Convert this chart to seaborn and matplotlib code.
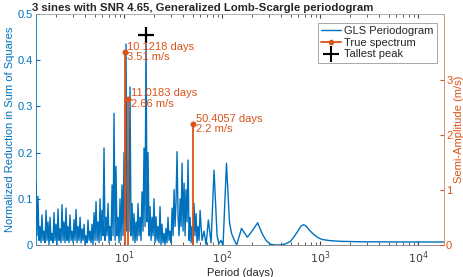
#!/usr/bin/env python3
# GLS periodogram of 3 sines, with the true spectrum on a second y axis
import numpy as np
import matplotlib
matplotlib.use("Agg")
import matplotlib.pyplot as plt
from matplotlib.lines import Line2D
import pandas as pd
import seaborn as sns

# ---- data ----
period_days = [
    1.265, 1.295, 1.324, 1.357, 1.39, 1.422, 1.455, 1.49, 1.527, 1.563,
    1.60, 1.638, 1.675, 1.716, 1.758, 1.80, 1.84, 1.885, 1.93, 1.975,
    2.02, 2.07, 2.12, 2.17, 2.22, 2.275, 2.33, 2.385, 2.44, 2.50,
    2.56, 2.62, 2.68, 2.745, 2.81, 2.88, 2.95, 3.02, 3.09, 3.165,
    3.24, 3.315, 3.39, 3.475, 3.56, 3.645, 3.73, 3.82, 3.91, 4.005,
    4.10, 4.195, 4.29, 4.395, 4.50, 4.605, 4.71, 4.825, 4.94, 5.06,
    5.18, 5.305, 5.43, 5.56, 5.69, 5.825, 5.96, 6.10, 6.25, 6.40,
    6.55, 6.71, 6.87, 7.03, 7.20, 7.37, 7.55, 7.73, 7.91, 8.10,
    8.28, 8.48, 8.69, 8.90, 9.10, 9.32, 9.54, 9.77, 10.0, 10.24,
    10.48, 10.73, 10.98, 11.24, 11.51, 11.79, 12.07, 12.36, 12.65, 12.95,
    13.26, 13.57, 13.89, 14.22, 14.56, 14.9, 15.26, 15.62, 16.0, 16.38,
    16.77, 17.17, 17.58, 18.0, 18.42, 18.86, 19.31, 19.77, 20.24, 20.72,
    21.2, 21.7, 22.2, 22.75, 23.3, 23.85, 24.4, 25.0, 25.6, 26.2,
    26.8, 27.45, 28.1, 28.8, 29.5, 30.2, 30.9, 31.65, 32.4, 33.15,
    33.9, 34.75, 35.6, 36.45, 37.3, 38.2, 39.1, 40.0, 41.0, 41.95,
    42.9, 43.95, 45.0, 46.1, 47.2, 48.3, 49.4, 50.6, 51.8, 53.0,
    54.3, 55.6, 56.9, 58.3, 59.7,
    62.5, 65.5, 68.7, 72.5, 77.3, 82.9, 89.0, 93.0, 97.7, 102.4,
    111.0, 119.0, 125.0, 132.6, 141.0, 158.0, 181.0, 202.0, 231.0, 256.0,
    281.0, 309.0, 348.0, 390.0, 438.0, 500.0, 552.0, 600.0, 640.0, 680.0,
    720.0, 780.0, 850.0, 950.0, 1050.0, 1260.0, 1600.0, 2560.0, 6500.0, 18400.0,
]
gls_power = [
    0.136, 0.02, 0.105, 0.01, 0.04, 0.005, 0.065, 0.01, 0.03, 0.005,
    0.075, 0.01, 0.05, 0.0, 0.06, 0.01, 0.025, 0.005, 0.07, 0.01,
    0.045, 0.0, 0.078, 0.01, 0.035, 0.005, 0.087, 0.01, 0.05, 0.005,
    0.08, 0.01, 0.04, 0.005, 0.065, 0.01, 0.03, 0.005, 0.055, 0.01,
    0.077, 0.005, 0.04, 0.01, 0.06, 0.005, 0.035, 0.01, 0.045, 0.0,
    0.02, 0.005, 0.054, 0.01, 0.03, 0.005, 0.045, 0.0, 0.07, 0.01,
    0.094, 0.01, 0.05, 0.005, 0.1, 0.01, 0.075, 0.02, 0.21, 0.01,
    0.06, 0.02, 0.09, 0.005, 0.04, 0.01, 0.13, 0.02, 0.285, 0.01,
    0.17, 0.02, 0.06, 0.005, 0.1, 0.01, 0.13, 0.02, 0.2, 0.05,
    0.435, 0.03, 0.18, 0.03, 0.342, 0.02, 0.09, 0.01, 0.068, 0.005,
    0.05, 0.01, 0.09, 0.02, 0.06, 0.01, 0.115, 0.03, 0.21, 0.04,
    0.455, 0.05, 0.2, 0.02, 0.083, 0.01, 0.06, 0.02, 0.1, 0.005,
    0.061, 0.01, 0.04, 0.005, 0.083, 0.0, 0.045, 0.005, 0.025, 0.0,
    0.036, 0.005, 0.06, 0.01, 0.03, 0.005, 0.08, 0.02, 0.12, 0.04,
    0.09, 0.202, 0.06, 0.02, 0.1, 0.04, 0.177, 0.03, 0.134, 0.02,
    0.12, 0.05, 0.184, 0.01, 0.06, 0.005, 0.04, 0.0, 0.09, 0.02,
    0.068, 0.005, 0.04, 0.01, 0.075,
    0.01, 0.03, 0.0, 0.054, 0.005, 0.162, 0.02, 0.003, 0.01, 0.0,
    0.177, 0.05, 0.025, 0.012, 0.0, 0.036, 0.017, 0.03, 0.048, 0.025,
    0.01, 0.002, 0.0, 0.0, 0.002, 0.008, 0.02, 0.032, 0.041, 0.044,
    0.041, 0.032, 0.024, 0.016, 0.012, 0.0095, 0.008, 0.007, 0.0066, 0.0065,
]

true_period = [10.1218, 11.0183, 50.4057]
true_amp = [3.51, 2.66, 2.2]

blue = "#0072BD"
orange = "#D95319"

sns.set_style("ticks")
plt.rcParams["font.family"] = ["Liberation Sans", "DejaVu Sans"]
plt.rcParams["font.size"] = 8
plt.rcParams["xtick.direction"] = "in"
plt.rcParams["ytick.direction"] = "in"

df = pd.DataFrame({"period": period_days, "power": gls_power})

fig = plt.figure(figsize=(4.63, 2.77), dpi=100)
ax = fig.add_axes([0.0778, 0.1155, 0.8812, 0.834])

sns.lineplot(data=df, x="period", y="power", ax=ax, color=blue,
             linewidth=1.0, sort=False, estimator=None)
ax.set_xscale("log")
ax.set_xlim(1.265, 18400)
ax.set_ylim(0, 0.5)
ax.set_yticks([0, 0.1, 0.2, 0.3, 0.4, 0.5])
ax.set_yticklabels(["0", "0.1", "0.2", "0.3", "0.4", "0.5"])
ax.set_xticks([10, 100, 1000, 10000])
ax.set_xticklabels([r"$10^{1}$", r"$10^{2}$", r"$10^{3}$", r"$10^{4}$"])
ax.tick_params(axis="y", colors=blue, labelsize=8, length=3, pad=2)
ax.tick_params(axis="x", colors="#404040", labelsize=8, length=3, top=True)
ax.tick_params(axis="x", which="minor", length=2, top=True, colors="#404040")
ax.set_xlabel("Period (days)", fontsize=8, color="#262626", labelpad=1)
ax.set_ylabel("Normalized Reduction in Sum of Squares", fontsize=8,
              color=blue, labelpad=2)
ax.spines["left"].set_color(blue)
ax.spines["bottom"].set_color("#808080")
ax.spines["top"].set_color("#a0a0a0")
for s in ax.spines.values():
    s.set_linewidth(0.6)

# tallest peak of the periodogram
i_max = int(np.argmax(gls_power))
ax.plot(period_days[i_max], gls_power[i_max], marker="+", color="black",
        markersize=12, markeredgewidth=1.6, linestyle="none", zorder=5)

# true spectrum on right axis
ax2 = ax.twinx()
ax2.set_ylim(0, 4.2)
ax2.vlines(true_period, 0, true_amp, color=orange, linewidth=1.3)
ax2.plot(true_period, true_amp, "o", color=orange, markersize=3.5,
         markerfacecolor=orange, markeredgewidth=0.8)
for p, a in zip(true_period, true_amp):
    ax2.annotate(f"{p:g} days\n{a:g} m/s", (p, a), xytext=(2, 0),
                 textcoords="offset points", ha="left", va="center",
                 color=orange, fontsize=8, linespacing=1.05)
ax2.set_yticks([0, 1, 2, 3])
ax2.tick_params(axis="y", colors=orange, labelsize=8, length=3, pad=1.5)
ax2.set_ylabel("Semi-Amplitude (m/s)", fontsize=8, color=orange, labelpad=1)
ax2.spines["right"].set_color("#eba98a")
ax2.spines["right"].set_linewidth(0.6)
for s in ["left", "top", "bottom"]:
    ax2.spines[s].set_visible(False)

ax.set_title("3 sines with SNR 4.65, Generalized Lomb-Scargle periodogram",
             fontsize=8.2, fontweight="bold", loc="left", x=-0.01, pad=2)

handles = [
    Line2D([], [], color=blue, linewidth=1),
    Line2D([], [], color=orange, linewidth=1.3, marker="o", markersize=3),
    Line2D([], [], color="black", marker="+", linestyle="none",
           markersize=11, markeredgewidth=1.5),
]
leg = ax2.legend(handles, ["GLS Periodogram", "True spectrum", "Tallest peak"],
                 loc="upper right", bbox_to_anchor=(0.983, 0.962),
                 fontsize=8, frameon=True, fancybox=False, edgecolor="#808080",
                 handlelength=1.8, handletextpad=0.3, borderpad=0.3,
                 labelspacing=0.15, borderaxespad=0)
leg.get_frame().set_linewidth(0.6)

fig.savefig("out.png", dpi=100)
